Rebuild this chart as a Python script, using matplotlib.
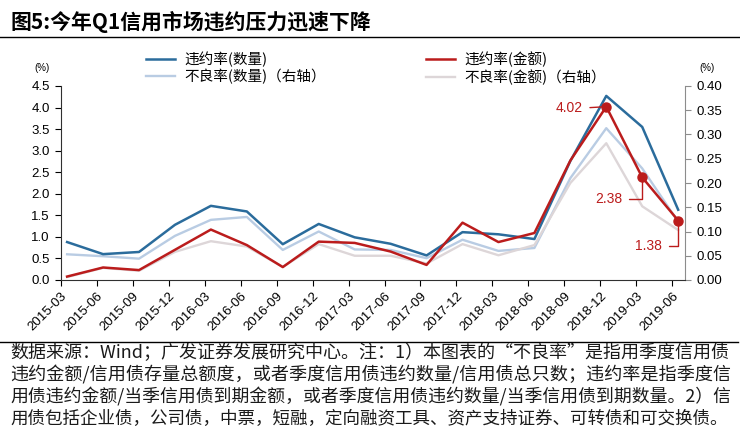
import numpy as np
import matplotlib
matplotlib.use("Agg")
import matplotlib.pyplot as plt
from matplotlib.lines import Line2D

# ------------------------------------------------------------------
# Data
# ------------------------------------------------------------------
quarters = ["2015-03", "2015-06", "2015-09", "2015-12", "2016-03", "2016-06",
            "2016-09", "2016-12", "2017-03", "2017-06", "2017-09", "2017-12",
            "2018-03", "2018-06", "2018-09", "2018-12", "2019-03", "2019-06"]

# left axis (%)
default_count = [0.88, 0.60, 0.65, 1.28, 1.72, 1.59, 0.83, 1.30, 0.99,
                 0.84, 0.57, 1.11, 1.06, 0.95, 2.76, 4.27, 3.55, 1.63]
default_amount = [0.08, 0.29, 0.23, 0.70, 1.17, 0.81, 0.30, 0.89, 0.86,
                  0.66, 0.35, 1.33, 0.88, 1.09, 2.77, 4.02, 2.38, 1.38]

# right axis (%)
npl_count = [0.053, 0.049, 0.044, 0.091, 0.124, 0.130, 0.062, 0.100, 0.063,
             0.062, 0.045, 0.083, 0.060, 0.066, 0.210, 0.313, 0.230, 0.120]
npl_amount = [0.006, 0.025, 0.019, 0.058, 0.080, 0.069, 0.027, 0.074, 0.050,
              0.050, 0.034, 0.074, 0.051, 0.072, 0.200, 0.282, 0.152, 0.103]

labelled = [15, 16, 17]
label_text = ["4.02", "2.38", "1.38"]

title = "图5:今年Q1信用市场违约压力迅速下降"
footnote = [
    "数据来源：Wind；广发证券发展研究中心。注：1）本图表的“不良率”是指用季度信用债",
    "违约金额/信用债存量总额度，或者季度信用债违约数量/信用债总只数；违约率是指季度信",
    "用债违约金额/当季信用债到期金额，或者季度信用债违约数量/当季信用债到期数量。2）信",
    "用债包括企业债，公司债，中票，短融，定向融资工具、资产支持证券、可转债和可交换债。",
]

BLUE = "#2b6c9c"
RED = "#bb1c1c"
LBLUE = "#b9cce3"
LGRAY = "#ddd6d8"
CJK = ["Noto Sans CJK SC", "DejaVu Sans"]

W, H = 740, 443


def fx(px):
    return px / W


def fy(py):
    return 1 - py / H


def main():
    plt.rcParams.update({
        "font.family": ["Liberation Sans", "Noto Sans CJK SC", "DejaVu Sans"],
        "font.size": 8.5,
        "axes.linewidth": 0.8,
    })

    fig = plt.figure(figsize=(W / 100, H / 100), dpi=100)
    ax = fig.add_axes([fx(61), fy(280), fx(685) - fx(61), fy(86) - fy(280)])
    ax2 = ax.twinx()

    x = np.arange(len(quarters)) + 0.17

    l3, = ax2.plot(x, npl_count, color=LBLUE, lw=1.7, label="不良率(数量)（右轴）")
    l4, = ax2.plot(x, npl_amount, color=LGRAY, lw=1.7, label="不良率(金额)（右轴）")
    ax2.set_zorder(1)
    ax.set_zorder(2)
    ax.patch.set_visible(False)

    l1, = ax.plot(x, default_count, color=BLUE, lw=1.8, label="违约率(数量)")
    l2, = ax.plot(x, default_amount, color=RED, lw=1.8, label="违约率(金额)")

    # highlighted points and callouts
    for i in labelled:
        ax.plot(x[i], default_amount[i], "o", color=RED, ms=6.5, zorder=5)
    callouts = [((583, 108), "arc3"), ((622, 199), "angle,angleA=0,angleB=90,rad=0"),
                ((662, 246), "angle,angleA=0,angleB=90,rad=0")]
    for i, txt, (pos, cs) in zip(labelled, label_text, callouts):
        ax.annotate(txt, xy=(x[i], default_amount[i]), xycoords="data",
                    xytext=(fx(pos[0]), fy(pos[1])), textcoords="figure fraction",
                    ha="right", va="center", color=RED, fontsize=10,
                    arrowprops=dict(arrowstyle="-", color=RED, lw=1.0,
                                    connectionstyle=cs, relpos=(1, 0.5),
                                    shrinkA=3, shrinkB=2))

    ax.set_xlim(0, 17.36)
    ax.set_ylim(0, 4.5)
    ax2.set_ylim(0, 0.40)
    ax.set_yticks(np.arange(0, 4.51, 0.5))
    ax.set_yticklabels([f"{v:.1f}" for v in np.arange(0, 4.51, 0.5)])
    ax2.set_yticks(np.arange(0, 0.401, 0.05))
    ax2.set_yticklabels([f"{v:.2f}" for v in np.arange(0, 0.401, 0.05)])
    ax.set_xticks(np.arange(len(quarters)))
    ax.set_xticklabels(quarters, rotation=45, ha="right", rotation_mode="anchor")

    for a in (ax, ax2):
        a.spines["top"].set_visible(False)
    ax.spines["right"].set_visible(False)
    ax.spines["left"].set_color("#303030")
    ax.spines["bottom"].set_color("#303030")
    ax2.spines["right"].set_color("#8c8c8c")
    ax2.spines["left"].set_visible(False)
    ax2.spines["bottom"].set_visible(False)
    ax.tick_params(axis="y", direction="out", length=4, pad=4, labelsize=9.5)
    ax.tick_params(axis="x", direction="out", length=4, pad=3, labelsize=9.5)
    ax2.tick_params(axis="y", direction="out", length=4, pad=4, labelsize=9.5,
                    color="#8c8c8c")

    fig.text(fx(42), fy(68), "(%)", fontsize=7, ha="center", va="center")
    fig.text(fx(707), fy(68), "(%)", fontsize=7, ha="center", va="center")

    # legends: two columns placed separately
    leg_kw = dict(loc="upper left", frameon=False, borderpad=0,
                  handlelength=2.0, handletextpad=0.6, labelspacing=0.15,
                  prop={"family": CJK, "size": 10.5})
    fig.legend([l1, l3], [l1.get_label(), l3.get_label()],
               bbox_to_anchor=(fx(139), fy(44)), **leg_kw)
    fig.legend([l2, l4], [l2.get_label(), l4.get_label()],
               bbox_to_anchor=(fx(419), fy(44)), **leg_kw)

    # title, rules and footnote
    fig.text(fx(10), fy(22), title, fontsize=15, fontweight="bold",
             family=CJK, ha="left", va="center")
    fig.add_artist(Line2D([0, 1], [fy(37), fy(37)], color="black", lw=1.0))
    fig.add_artist(Line2D([0, fx(738)], [fy(341.5), fy(341.5)], color="black", lw=1.0))

    # footnote lines are stretched to the width they take in the reference
    renderer = fig.canvas.get_renderer()
    for k, line in enumerate(footnote):
        t = fig.text(fx(10), fy(353 + 22 * k), line, fontsize=12, family=CJK,
                     ha="left", va="center", color="#1a1a1a")
        width = t.get_window_extent(renderer).width
        t.set_fontsize(12 * (728 - 10) / width)

    fig.savefig("out.png", dpi=100, facecolor="white")
    plt.close(fig)


if __name__ == "__main__":
    main()
